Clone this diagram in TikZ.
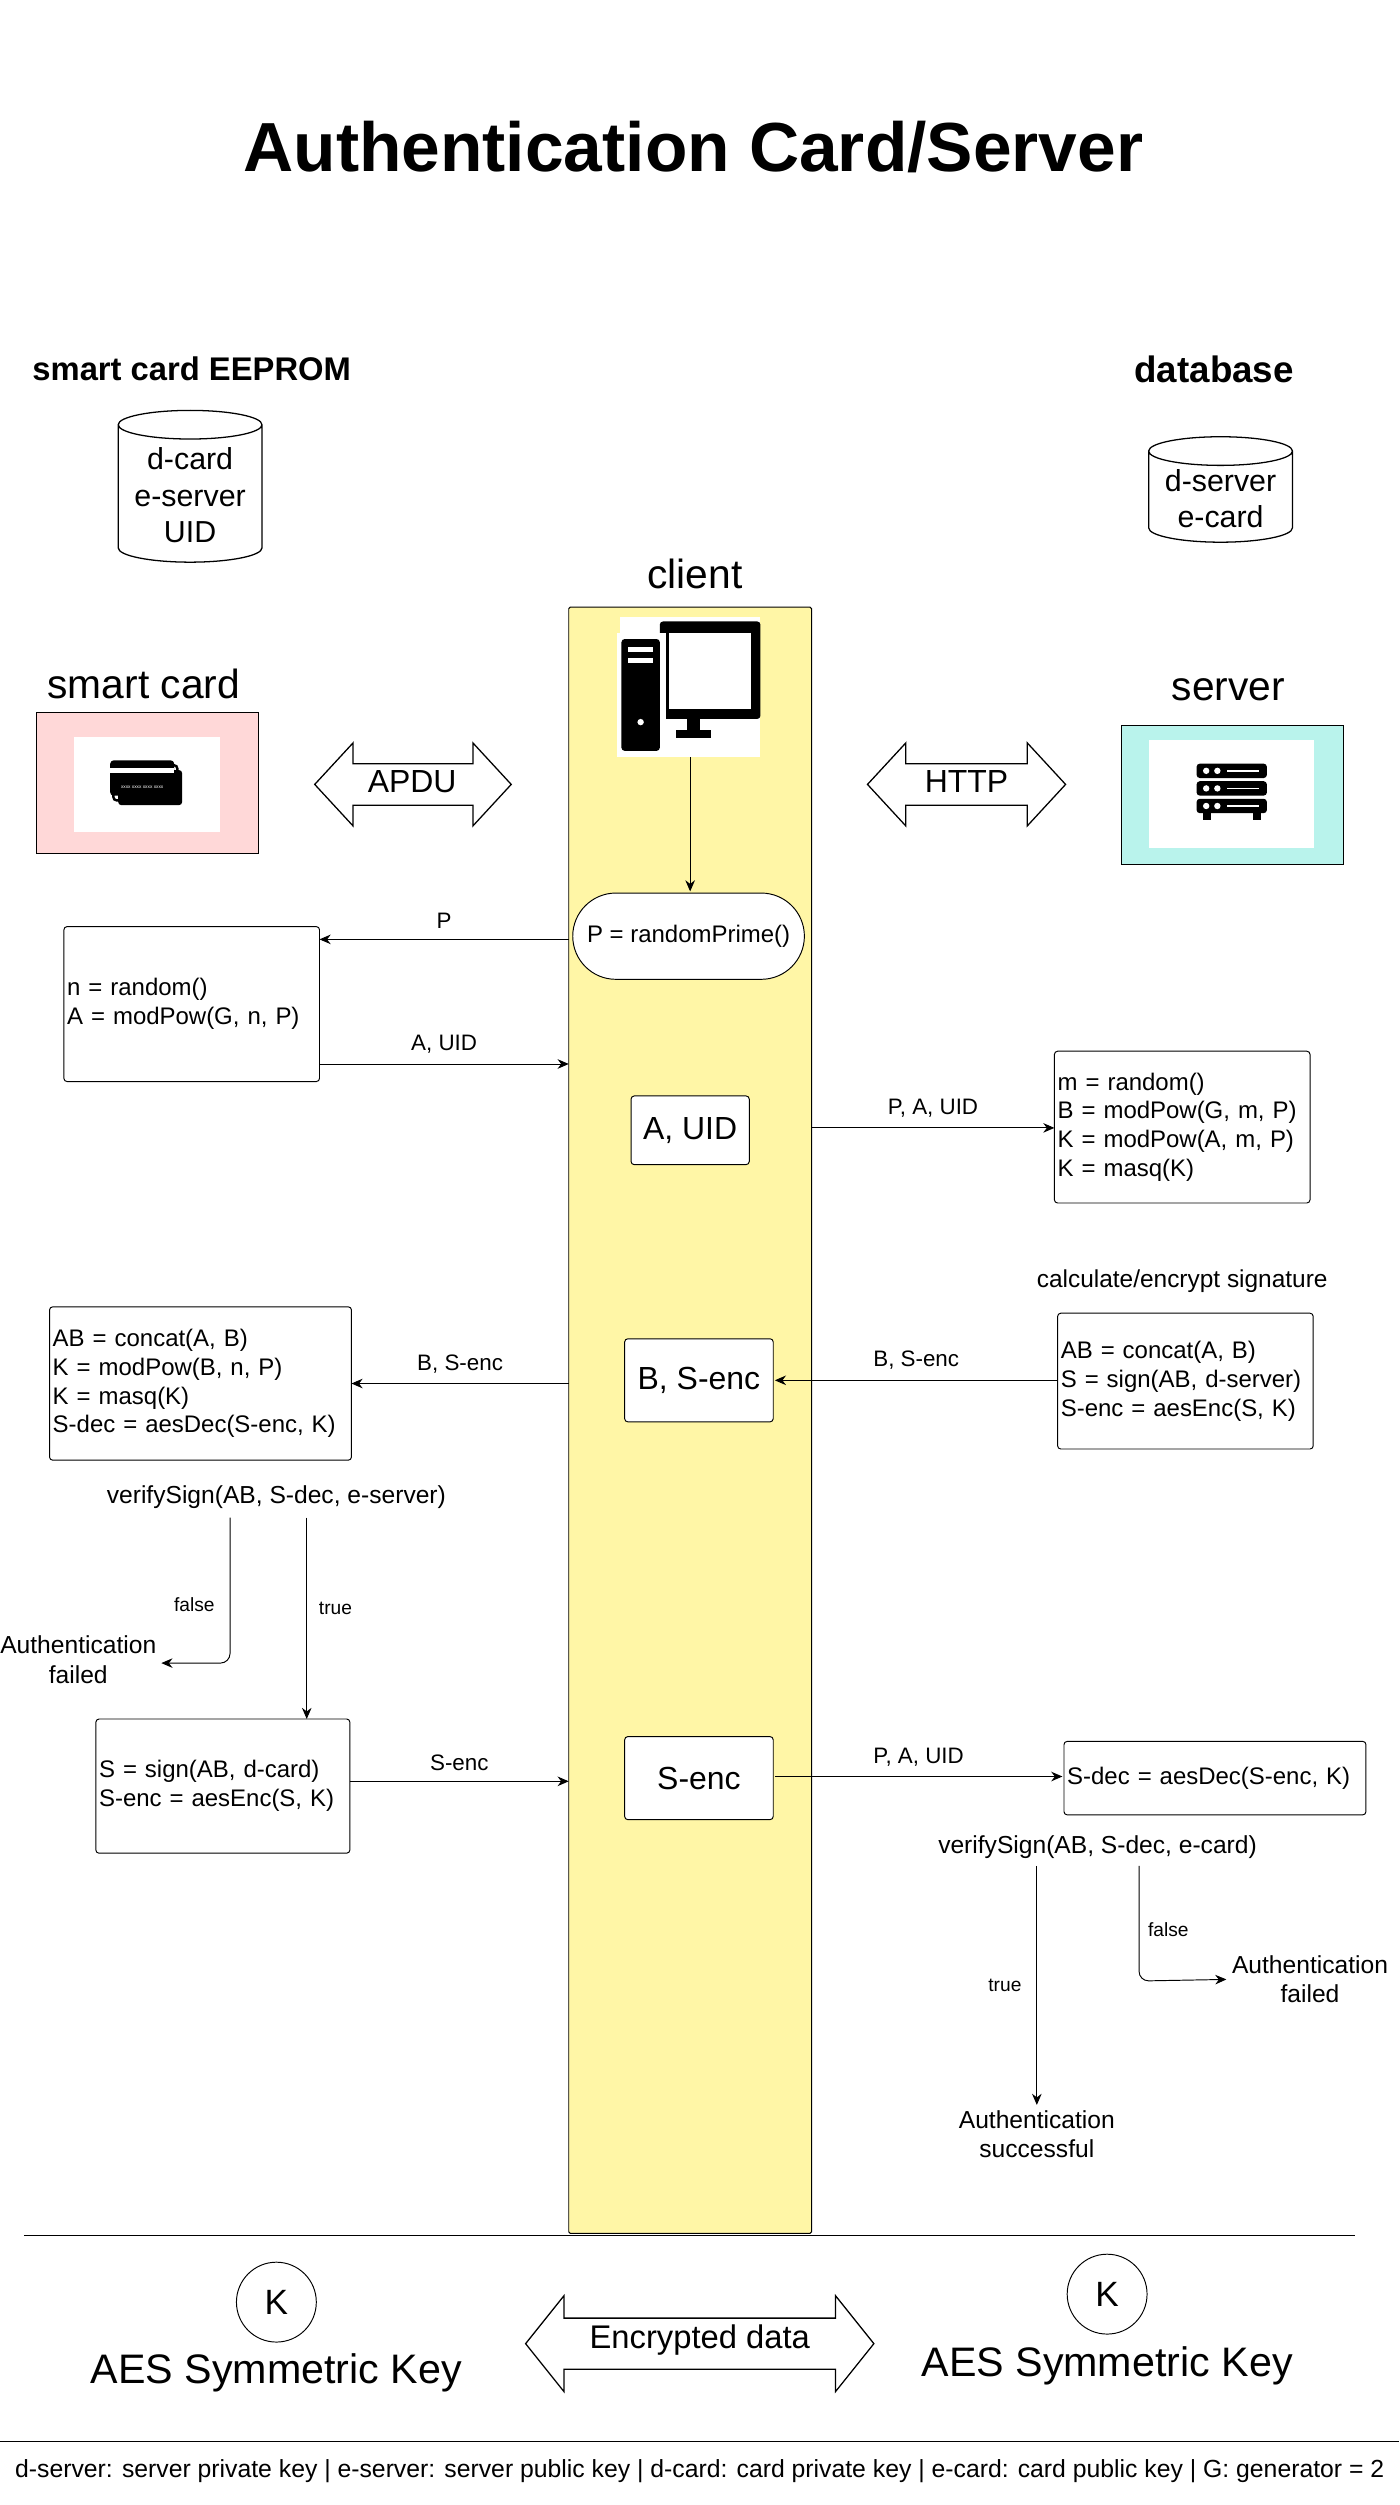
\documentclass[tikz,border=0pt]{standalone}
\usepackage{fontspec}
\setmainfont{Liberation Sans}
\usetikzlibrary{shapes.geometric,arrows.meta}
\definecolor{pinkbg}{RGB}{255,216,216}
\definecolor{cyanbg}{RGB}{185,243,236}
\definecolor{yel}{RGB}{255,246,166}
\newcommand{\fs}[1]{\fontsize{#1}{\the\dimexpr#1pt*12/10\relax}\selectfont}
\newcommand{\dblarr}[6]{% x1 x2 y headhalf bodyhalf headlen
  \draw[line width=0.8pt,fill=white] (#1,#3) -- (#1+#6,#3-#4) -- (#1+#6,#3-#5) -- (#2-#6,#3-#5) -- (#2-#6,#3-#4) -- (#2,#3) -- (#2-#6,#3+#4) -- (#2-#6,#3+#5) -- (#1+#6,#3+#5) -- (#1+#6,#3+#4) -- cycle;}
\begin{document}
\begin{tikzpicture}[x=1pt,y=-1pt,
  lab/.style={font=\fs{14}},
  txt/.style={font=\fs{15},align=left},
  box/.style={draw,rounded corners=2pt,line width=0.6pt,fill=white},
  arr/.style={draw,line width=0.6pt,-{Stealth[length=7pt,width=6pt]}},
  cyl/.style={cylinder,shape border rotate=90,draw,line width=0.8pt,aspect=0.25,fill=white,font=\fs{19},align=center,inner sep=1pt}]
\useasboundingbox (0,0) rectangle (876,1568);
\node[font=\bfseries\fs{43.5}] (title) at (434,92) {Authentication Card/Server};
\node[font=\bfseries\fs{20.5}] (sce) at (120,231) {smart card EEPROM};
\node[font=\bfseries\fs{23}] (dbl) at (760,231) {database};
\node[cyl,minimum width=90,minimum height=95] (cyl1) at (119,310) {d-card\\e-server\\UID};
\node[cyl,minimum width=90,minimum height=66] (cyl2) at (764,312) {d-server\\e-card};
\node[font=\fs{25.5}] (cl) at (435,359) {client};
\draw[fill=yel,draw=black,line width=0.6pt,rounded corners=1pt] (356,380) rectangle (508,1398);
\node[fill=white,minimum width=88,minimum height=88,inner sep=0] (pc) at (432,430) {};
\fill[rounded corners=2pt] (413,389) rectangle (476,450);
\fill[white] (419,396) rectangle (470,444);
\fill (430,450) rectangle (438,458); \fill (423,457) rectangle (445,462);
\fill[white] (386,396) rectangle (417,474);
\fill[rounded corners=2pt] (389,400) rectangle (413,470);
\fill[white] (393,405) rectangle (409,408); \fill[white] (393,412) rectangle (409,415);
\fill[white] (401,452) circle (2);
\node[font=\fs{25.5}] (scl) at (90,428) {smart card};
\draw[fill=pinkbg,line width=0.6pt] (23,446) rectangle (162,534);
\node[fill=white,minimum width=91,minimum height=59,inner sep=0] (sc) at (92,491) {};
\fill[rounded corners=2pt] (74,482) rectangle (114,504);
\draw[line width=1.5pt,rounded corners=2pt] (71,479) rectangle (111,501);
\fill[rounded corners=2pt] (69,476) rectangle (109,498);
\fill[white] (69,481) rectangle (109,484);
\node[font=\fs{3},white] at (89,493) {xxxx xxxx xxxx xxxx};
\dblarr{197}{320}{491}{26}{13}{24}
\node[font=\fs{20}] (apdu) at (258,489) {APDU};
\dblarr{543}{667}{491}{26}{13}{24}
\node[font=\fs{20}] (http) at (605,489) {HTTP};
\node[font=\fs{25.5}] (svl) at (769,432) {server};
\draw[fill=cyanbg,line width=0.6pt] (702,454) rectangle (841,541);
\node[fill=white,minimum width=103,minimum height=68,inner sep=0] (sv) at (771,497) {};
\foreach \yy in {478,489,500}{
  \fill[rounded corners=2pt] (749,\yy) rectangle (793,\yy+9);
  \fill[white] (755,\yy+4.5) circle (2); \fill[white] (762,\yy+4.5) circle (2);
  \fill[white] (768,\yy+4) rectangle (788,\yy+5);}
\fill (753,509) rectangle (758,513); \fill (784,509) rectangle (789,513);
\draw[arr] (432,474) -- (432,558);
\node[draw,rounded corners=27pt,line width=0.6pt,fill=white,minimum width=145,minimum height=54,font=\fs{15}] (rp) at (431,586) {P = randomPrime()};
\draw[arr] (356,588) -- node[lab,above=3pt] {P} (200,588);
\node[box,txt,minimum width=160,minimum height=97,text width=156,inner sep=2pt] (b1) at (120,628.5) {n = random()\\A = modPow(G, n, P)};
\draw[arr] (200,666) -- node[lab,above=3pt] {A, UID} (356,666);
\node[box,font=\fs{20},minimum width=74,minimum height=43] (au) at (432,707.5) {A, UID};
\draw[arr] (508,706) -- node[lab,above=3pt] {P, A, UID} (660,706);
\node[box,txt,minimum width=160,minimum height=95,text width=156,inner sep=2pt] (b2) at (740,705.5) {m = random()\\B = modPow(G, m, P)\\K = modPow(A, m, P)\\K = masq(K)};
\node[font=\fs{15.3}] (ces) at (740,802) {calculate/encrypt signature};
\node[box,txt,minimum width=160,minimum height=85,text width=156,inner sep=2pt] (b3) at (742,864.5) {AB = concat(A, B)\\S = sign(AB, d-server)\\S-enc = aesEnc(S, K)};
\node[box,font=\fs{20},minimum width=93,minimum height=52] (bs) at (437.5,864) {B, S-enc};
\draw[arr] (662,864) -- node[lab,above=3pt] {B, S-enc} (485,864);
\draw[arr] (356,866) -- node[lab,above=3pt] {B, S-enc} (220,866);
\node[box,txt,minimum width=189,minimum height=96,text width=185,inner sep=2pt] (b4) at (125.5,866) {AB = concat(A, B)\\K = modPow(B, n, P)\\K = masq(K)\\S-dec = aesDec(S-enc, K)};
\node[font=\fs{15.4}] (vs1) at (173,937) {verifySign(AB, S-dec, e-server)};
\node[font=\fs{15.4},align=center] (af1) at (49,1039) {Authentication\\failed};
\draw[arr,rounded corners=6pt] (144,950) -- node[lab,font=\fs{12},pos=0.6,left=6pt] {false} (144,1041) -- (101,1041);
\node[box,txt,minimum width=159,minimum height=84,text width=155,inner sep=2pt] (b5) at (139.5,1118) {S = sign(AB, d-card)\\S-enc = aesEnc(S, K)};
\draw[arr] (192,950) -- node[lab,font=\fs{12},pos=0.45,right=4pt] {true} (192,1076);
\node[box,font=\fs{20},minimum width=93,minimum height=52] (se) at (437.5,1113) {S-enc};
\draw[arr] (219,1115) -- node[lab,above=3pt] {S-enc} (356,1115);
\draw[arr] (485,1112) -- node[lab,above=3pt] {P, A, UID} (665,1112);
\node[box,txt,minimum width=189,minimum height=46,text width=185,inner sep=2pt] (b6) at (760.5,1113) {S-dec = aesDec(S-enc, K)};
\node[font=\fs{15.4}] (vs2) at (687,1156) {verifySign(AB, S-dec, e-card)};
\node[font=\fs{15.4},align=center] (as) at (649,1336) {Authentication\\successful};
\draw[arr] (649,1168) -- node[lab,font=\fs{12},pos=0.5,left=6pt] {true} (as.north);
\node[font=\fs{15.4},align=center] (af2) at (820,1239) {Authentication\\failed};
\draw[arr,rounded corners=6pt] (713,1168) -- node[lab,font=\fs{12},pos=0.55,right=2pt] {false} (713,1240) -- (af2.west);
\draw[line width=0.6pt] (15,1399) -- (848,1399);
\node[draw,circle,minimum size=50,font=\fs{22},line width=0.6pt] (k1) at (173,1441) {K};
\node[font=\fs{25.8}] (aes1) at (173,1485) {AES Symmetric Key};
\node[draw,circle,minimum size=50,font=\fs{22},line width=0.6pt] (k2) at (693,1436) {K};
\node[font=\fs{25.8}] (aes2) at (693,1481) {AES Symmetric Key};
\dblarr{329}{547}{1467}{30}{16}{24}
\node[font=\fs{20.5}] (ed) at (438,1465) {Encrypted data};
\draw[line width=0.6pt] (0,1528) -- (876,1528);
\node[font=\fs{15.5}] (foot) at (438,1547) {d-server: server private key | e-server: server public key | d-card: card private key | e-card: card public key | G: generator = 2};
\end{tikzpicture}
\end{document}
